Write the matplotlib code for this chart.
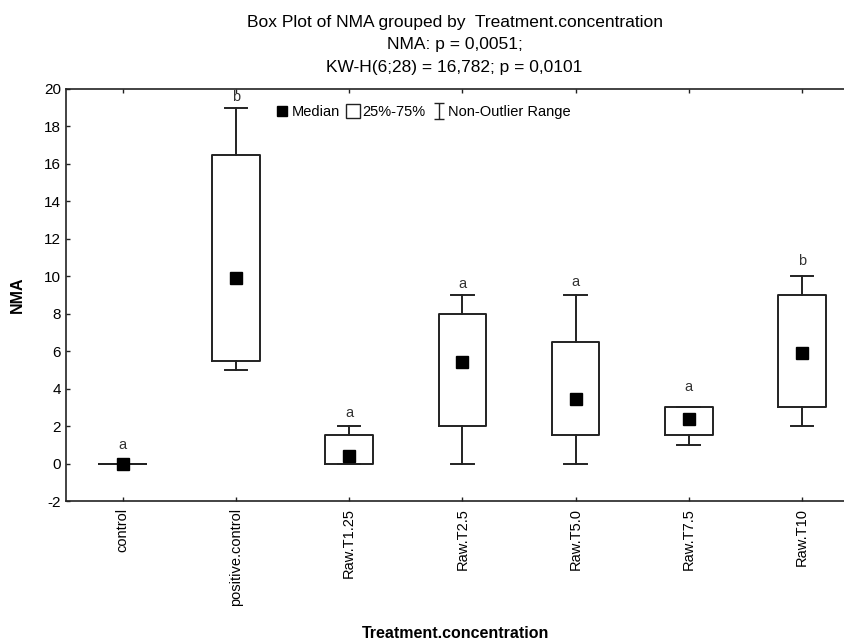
import matplotlib
matplotlib.use("Agg")
import matplotlib.pyplot as plt
from matplotlib.lines import Line2D
from matplotlib.path import Path

# groups on the x axis
categories = ["control", "positive.control", "Raw.T1.25", "Raw.T2.5",
              "Raw.T5.0", "Raw.T7.5", "Raw.T10"]

# box plot statistics
medians = [0.0, 9.9, 0.4, 5.4, 3.45, 2.4, 5.9]
q1 = [0.0, 5.5, 0.0, 2.0, 1.5, 1.5, 3.0]
q3 = [0.0, 16.5, 1.5, 8.0, 6.5, 3.0, 9.0]
whisk_lo = [0.0, 5.0, 0.0, 0.0, 0.0, 1.0, 2.0]
whisk_hi = [0.0, 19.0, 2.0, 9.0, 9.0, 3.0, 10.0]

# significance letters and their heights
letters = ["a", "b", "a", "a", "a", "a", "b"]
letter_y = [1.0, 19.55, 2.7, 9.6, 9.7, 4.1, 10.8]

y_ticks = list(range(-2, 21, 2))

plt.rcParams["font.family"] = ["Liberation Sans", "DejaVu Sans"]

fig = plt.figure(figsize=(8.45, 6.43), dpi=100)
ax = fig.add_axes([0.0781, 0.2208, 0.9219, 0.6408])

stats = []
for i, name in enumerate(categories):
    stats.append({"label": name, "med": medians[i], "q1": q1[i], "q3": q3[i],
                  "whislo": whisk_lo[i], "whishi": whisk_hi[i], "fliers": []})

line_kw = dict(color="#222222", linewidth=1.4)
ax.bxp(stats, positions=range(len(categories)), widths=0.42, capwidths=0.2,
       showfliers=False, boxprops=line_kw, whiskerprops=line_kw, capprops=line_kw,
       medianprops=dict(linewidth=0))

ax.plot(range(len(categories)), medians, linestyle="none", marker="s",
        markersize=8, color="black", zorder=5)

for i, lt in enumerate(letters):
    ax.text(i, letter_y[i], lt, ha="center", va="center", fontsize=10.5, color="#333333")

ax.set_xlim(-0.5, 6.38)
ax.set_ylim(-2, 20)
ax.set_yticks(y_ticks)
ax.set_yticklabels([str(v) for v in y_ticks], fontsize=11)
ax.set_xticks(range(len(categories)))
ax.set_xticklabels(categories, rotation=90, fontsize=10.5)
ax.tick_params(direction="in", length=3, width=1, top=True, color="#222222")
ax.tick_params(axis="x", pad=5)
for side in ["left", "bottom", "top"]:
    ax.spines[side].set_linewidth(1.2)
    ax.spines[side].set_color("#222222")
ax.spines["right"].set_visible(False)

ax.set_ylabel("NMA", fontsize=11.5, fontweight="bold", labelpad=14)
ax.set_xlabel("Treatment.concentration", fontsize=11.5, fontweight="bold",
              labelpad=14)

fig.text(0.538, 0.977, "Box Plot of NMA grouped by  Treatment.concentration\n"
         "NMA: p = 0,0051;\nKW-H(6;28) = 16,782; p = 0,0101",
         ha="center", va="top", fontsize=12.5, linespacing=1.62)

# legend with a whisker-shaped marker
whisker_path = Path([(-0.6, 1), (0.6, 1), (0, 1), (0, -1), (-0.6, -1), (0.6, -1)],
                    [Path.MOVETO, Path.LINETO, Path.MOVETO, Path.LINETO,
                     Path.MOVETO, Path.LINETO])
handles = [
    Line2D([], [], linestyle="none", marker="s", markersize=7, color="black"),
    Line2D([], [], linestyle="none", marker="s", markersize=10,
           markerfacecolor="white", markeredgecolor="#222222", markeredgewidth=1),
    Line2D([], [], linestyle="none", marker=whisker_path, markersize=11,
           color="#222222", markeredgewidth=1),
]
ax.legend(handles, ["Median", "25%-75%", "Non-Outlier Range"], ncol=3,
          loc="center left", bbox_to_anchor=(0.27, 0.944), frameon=False,
          fontsize=10.5, handlelength=0.8, handletextpad=0.25, columnspacing=0.5,
          borderpad=0, borderaxespad=0)

fig.savefig("out.png", dpi=100)
